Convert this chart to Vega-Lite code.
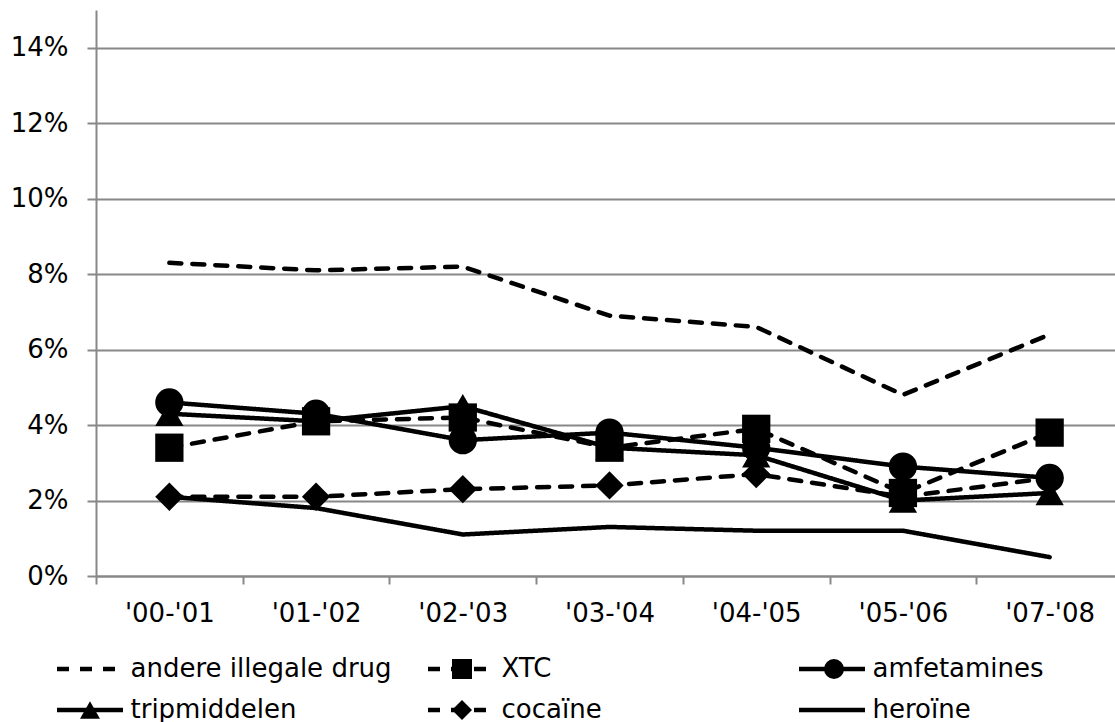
{
  "$schema": "https://vega.github.io/schema/vega-lite/v6.json",
  "width": 1027,
  "height": 566,
  "padding": {"left": 10, "top": 10, "right": 0, "bottom": 0},
  "background": "white",
  "config": {
    "font": "DejaVu Sans",
    "view": {"stroke": null}
  },
  "data": {
    "values": [
      {"period": "'00-'01", "series": "andere illegale drug", "value": 0.083},
      {"period": "'01-'02", "series": "andere illegale drug", "value": 0.081},
      {"period": "'02-'03", "series": "andere illegale drug", "value": 0.082},
      {"period": "'03-'04", "series": "andere illegale drug", "value": 0.069},
      {"period": "'04-'05", "series": "andere illegale drug", "value": 0.066},
      {"period": "'05-'06", "series": "andere illegale drug", "value": 0.048},
      {"period": "'07-'08", "series": "andere illegale drug", "value": 0.064},
      {"period": "'00-'01", "series": "XTC", "value": 0.034},
      {"period": "'01-'02", "series": "XTC", "value": 0.041},
      {"period": "'02-'03", "series": "XTC", "value": 0.042},
      {"period": "'03-'04", "series": "XTC", "value": 0.034},
      {"period": "'04-'05", "series": "XTC", "value": 0.039},
      {"period": "'05-'06", "series": "XTC", "value": 0.022},
      {"period": "'07-'08", "series": "XTC", "value": 0.038},
      {"period": "'00-'01", "series": "amfetamines", "value": 0.046},
      {"period": "'01-'02", "series": "amfetamines", "value": 0.043},
      {"period": "'02-'03", "series": "amfetamines", "value": 0.036},
      {"period": "'03-'04", "series": "amfetamines", "value": 0.038},
      {"period": "'04-'05", "series": "amfetamines", "value": 0.034},
      {"period": "'05-'06", "series": "amfetamines", "value": 0.029},
      {"period": "'07-'08", "series": "amfetamines", "value": 0.026},
      {"period": "'00-'01", "series": "tripmiddelen", "value": 0.043},
      {"period": "'01-'02", "series": "tripmiddelen", "value": 0.041},
      {"period": "'02-'03", "series": "tripmiddelen", "value": 0.045},
      {"period": "'03-'04", "series": "tripmiddelen", "value": 0.034},
      {"period": "'04-'05", "series": "tripmiddelen", "value": 0.032},
      {"period": "'05-'06", "series": "tripmiddelen", "value": 0.020},
      {"period": "'07-'08", "series": "tripmiddelen", "value": 0.022},
      {"period": "'00-'01", "series": "cocaïne", "value": 0.021},
      {"period": "'01-'02", "series": "cocaïne", "value": 0.021},
      {"period": "'02-'03", "series": "cocaïne", "value": 0.023},
      {"period": "'03-'04", "series": "cocaïne", "value": 0.024},
      {"period": "'04-'05", "series": "cocaïne", "value": 0.027},
      {"period": "'05-'06", "series": "cocaïne", "value": 0.021},
      {"period": "'07-'08", "series": "cocaïne", "value": 0.026},
      {"period": "'00-'01", "series": "heroïne", "value": 0.021},
      {"period": "'01-'02", "series": "heroïne", "value": 0.018},
      {"period": "'02-'03", "series": "heroïne", "value": 0.011},
      {"period": "'03-'04", "series": "heroïne", "value": 0.013},
      {"period": "'04-'05", "series": "heroïne", "value": 0.012},
      {"period": "'05-'06", "series": "heroïne", "value": 0.012},
      {"period": "'07-'08", "series": "heroïne", "value": 0.005}
    ]
  },
  "encoding": {
    "x": {
      "field": "period",
      "type": "ordinal",
      "sort": ["'00-'01", "'01-'02", "'02-'03", "'03-'04", "'04-'05", "'05-'06", "'07-'08"],
      "scale": {"paddingInner": 0, "paddingOuter": 0},
      "axis": {
        "title": null,
        "labelAngle": 0,
        "tickBand": "extent",
        "grid": false,
        "domainColor": "#888888",
        "domainWidth": 2,
        "tickColor": "#888888",
        "tickWidth": 2,
        "tickSize": 8,
        "labelPadding": 16,
        "labelFontSize": 26,
        "labelFont": "DejaVu Sans",
        "labelColor": "black"
      }
    },
    "y": {
      "field": "value",
      "type": "quantitative",
      "scale": {"domain": [0, 0.15], "nice": false, "zero": true},
      "axis": {
        "title": null,
        "values": [0, 0.02, 0.04, 0.06, 0.08, 0.1, 0.12, 0.14],
        "format": ".0%",
        "grid": true,
        "gridColor": "#888888",
        "gridWidth": 2,
        "domainColor": "#888888",
        "domainWidth": 2,
        "tickColor": "#888888",
        "tickWidth": 2,
        "tickSize": 9,
        "labelPadding": 19,
        "labelFontSize": 26,
        "labelFont": "DejaVu Sans",
        "labelColor": "black"
      }
    }
  },
  "layer": [
    {
      "mark": {"type": "line", "color": "black", "strokeWidth": 4.5, "strokeCap": "round", "strokeJoin": "round"},
      "encoding": {
        "detail": {"field": "series", "type": "nominal"},
        "strokeDash": {
          "field": "series",
          "type": "nominal",
          "scale": {
            "domain": ["andere illegale drug", "XTC", "amfetamines", "tripmiddelen", "cocaïne", "heroïne"],
            "range": [[12, 11], [12, 11], [1, 0], [1, 0], [12, 11], [1, 0]]
          },
          "legend": {
            "orient": "none",
            "legendX": -39,
            "legendY": 646,
            "direction": "horizontal",
            "columns": 3,
            "title": null,
            "gridAlign": "all",
            "columnPadding": 36,
            "rowPadding": 15,
            "padding": 0,
            "clipHeight": 26,
            "symbolType": "stroke",
            "symbolSize": 4356,
            "symbolStrokeWidth": 4.5,
            "symbolStrokeColor": "black",
            "symbolOpacity": 1,
            "symbolOffset": -2.5,
            "labelOffset": 5,
            "labelFontSize": 26,
            "labelFont": "DejaVu Sans",
            "labelColor": "black",
            "labelLimit": 600
          }
        }
      }
    },
    {
      "mark": {"type": "point", "filled": true, "color": "black", "size": 800, "strokeWidth": 0, "opacity": 1},
      "encoding": {
        "shape": {
          "field": "series",
          "type": "nominal",
          "sort": ["andere illegale drug", "XTC", "amfetamines", "tripmiddelen", "cocaïne", "heroïne"],
          "scale": {
            "range": ["stroke", "square", "circle", "triangle-up", "diamond", "stroke"]
          },
          "legend": {
            "orient": "none",
            "legendX": -39,
            "legendY": 646,
            "direction": "horizontal",
            "columns": 3,
            "title": null,
            "gridAlign": "all",
            "columnPadding": 14,
            "rowPadding": 15,
            "padding": 0,
            "symbolSize": 400,
            "symbolStrokeWidth": 0,
            "symbolOffset": 20,
            "labelOffset": 50,
            "symbolFillColor": "black",
            "symbolOpacity": 1,
            "labelFontSize": 26,
            "labelFont": "DejaVu Sans",
            "labelColor": "black",
            "labelOpacity": 0,
            "labelLimit": 600
          }
        }
      }
    }
  ]
}
